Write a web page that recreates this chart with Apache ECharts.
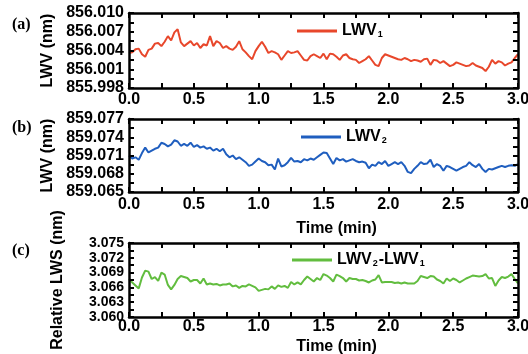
<!DOCTYPE html>
<html>
<head>
<meta charset="utf-8">
<script src="https://cdn.jsdelivr.net/npm/echarts@6/dist/echarts.min.js"></script>
<style>
  html, body { margin: 0; padding: 0; background: #fff; }
  #chart { width: 528px; height: 354px; }
</style>
</head>
<body>
<div id="chart"></div>
<script>
// sampling step of the traces, minutes (trace i is at i * timeStep)
const timeStep = 0.025;
const timeTicks = [0, 0.5, 1, 1.5, 2, 2.5, 3];

const yTicksA = [855.998, 856.001, 856.004, 856.007, 856.010];
const yTicksB = [859.065, 859.068, 859.071, 859.074, 859.077];
const yTicksC = [3.060, 3.063, 3.066, 3.069, 3.072, 3.075];

// LWV1 (nm)
const lwv1 = [
  856.0036, 856.0037, 856.0042, 856.0043, 856.0034, 856.0030, 856.0041, 856.0043, 856.0051, 856.0052,
  856.0047, 856.0054, 856.0063, 856.0056, 856.0069, 856.0074, 856.0053, 856.0047, 856.0051, 856.0055,
  856.0048, 856.0052, 856.0044, 856.0050, 856.0048, 856.0063, 856.0047, 856.0055, 856.0052, 856.0044,
  856.0047, 856.0043, 856.0041, 856.0046, 856.0055, 856.0042, 856.0037, 856.0031, 856.0026, 856.0039,
  856.0047, 856.0054, 856.0046, 856.0036, 856.0039, 856.0037, 856.0034, 856.0025, 856.0032, 856.0039,
  856.0036, 856.0037, 856.0039, 856.0032, 856.0025, 856.0024, 856.0031, 856.0034, 856.0031, 856.0028,
  856.0035, 856.0026, 856.0035, 856.0034, 856.0030, 856.0025, 856.0032, 856.0034, 856.0028, 856.0026,
  856.0025, 856.0020, 856.0023, 856.0026, 856.0031, 856.0024, 856.0017, 856.0015, 856.0028, 856.0034,
  856.0032, 856.0030, 856.0028, 856.0026, 856.0025, 856.0028, 856.0026, 856.0023, 856.0025, 856.0024,
  856.0022, 856.0026, 856.0027, 856.0017, 856.0025, 856.0024, 856.0020, 856.0023, 856.0019, 856.0015,
  856.0017, 856.0021, 856.0019, 856.0017, 856.0015, 856.0016, 856.0020, 856.0016, 856.0014, 856.0012,
  856.0007, 856.0014, 856.0025, 856.0019, 856.0023, 856.0021, 856.0016, 856.0019, 856.0021, 856.0028,
  856.0034
];

// LWV2 (nm)
const lwv2 = [
  859.0710, 859.0705, 859.0707, 859.0703, 859.0714, 859.0723, 859.0715, 859.0718, 859.0721, 859.0723,
  859.0731, 859.0729, 859.0725, 859.0728, 859.0735, 859.0733, 859.0726, 859.0729, 859.0726, 859.0731,
  859.0724, 859.0727, 859.0723, 859.0725, 859.0721, 859.0723, 859.0718, 859.0721, 859.0717, 859.0721,
  859.0712, 859.0707, 859.0710, 859.0704, 859.0707, 859.0703, 859.0699, 859.0693, 859.0695, 859.0700,
  859.0705, 859.0701, 859.0699, 859.0694, 859.0695, 859.0687, 859.0705, 859.0692, 859.0694, 859.0699,
  859.0706, 859.0700, 859.0701, 859.0699, 859.0704, 859.0702, 859.0705, 859.0703, 859.0707, 859.0711,
  859.0715, 859.0714, 859.0705, 859.0696, 859.0706, 859.0702, 859.0704, 859.0700, 859.0702, 859.0704,
  859.0701, 859.0699, 859.0700, 859.0698, 859.0689, 859.0695, 859.0693, 859.0699, 859.0696, 859.0701,
  859.0693, 859.0696, 859.0699, 859.0696, 859.0699, 859.0693, 859.0683, 859.0681, 859.0688, 859.0693,
  859.0699, 859.0696, 859.0697, 859.0703, 859.0691, 859.0696, 859.0693, 859.0685, 859.0693, 859.0691,
  859.0688, 859.0685, 859.0688, 859.0691, 859.0693, 859.0699, 859.0694, 859.0691, 859.0696, 859.0688,
  859.0683, 859.0688, 859.0687, 859.0689, 859.0691, 859.0693, 859.0691, 859.0693, 859.0694, 859.0693,
  859.0696
];

// LWV2 - LWV1 (nm)
const lwsRel = [
  3.0677, 3.0670, 3.0664, 3.0658, 3.0680, 3.0694, 3.0692, 3.0677, 3.0681, 3.0673,
  3.0690, 3.0686, 3.0665, 3.0656, 3.0665, 3.0677, 3.0683, 3.0681, 3.0679, 3.0672,
  3.0675, 3.0675, 3.0668, 3.0678, 3.0666, 3.0668, 3.0666, 3.0667, 3.0664, 3.0666,
  3.0666, 3.0668, 3.0662, 3.0664, 3.0659, 3.0663, 3.0662, 3.0666, 3.0663, 3.0660,
  3.0653, 3.0655, 3.0657, 3.0656, 3.0662, 3.0657, 3.0664, 3.0661, 3.0663, 3.0659,
  3.0671, 3.0666, 3.0670, 3.0666, 3.0675, 3.0682, 3.0677, 3.0672, 3.0679, 3.0675,
  3.0687, 3.0684, 3.0679, 3.0672, 3.0686, 3.0683, 3.0679, 3.0672, 3.0679, 3.0677,
  3.0677, 3.0674, 3.0675, 3.0673, 3.0670, 3.0674, 3.0676, 3.0685, 3.0670, 3.0671,
  3.0671, 3.0671, 3.0669, 3.0670, 3.0668, 3.0670, 3.0668, 3.0668, 3.0668, 3.0673,
  3.0683, 3.0681, 3.0679, 3.0683, 3.0682, 3.0676, 3.0673, 3.0668, 3.0678, 3.0673,
  3.0678, 3.0675, 3.0670, 3.0674, 3.0678, 3.0681, 3.0684, 3.0683, 3.0682, 3.0683,
  3.0687, 3.0678, 3.0679, 3.0663, 3.0674, 3.0681, 3.0679, 3.0682, 3.0687, 3.0677,
  3.0668
];

const FONT = "Liberation Sans";

const panels = [
  { tag: "(a)", values: lwv1, ticks: yTicksA, name: "LWV1", label: "{n|LWV}{s|1}",
    color: "#e8472b", top: 13, height: 75, yName: "LWV (nm)", yGap: 67, xName: "", xGap: 29,
    labelMargin: 4, yLabelSize: 16, legendLeft: 292, legendTop: 18, tagY: 26 },
  { tag: "(b)", values: lwv2, ticks: yTicksB, name: "LWV2", label: "{n|LWV}{s|2}",
    color: "#1f5ebf", top: 119, height: 73, yName: "LWV (nm)", yGap: 67, xName: "Time (min)", xGap: 29,
    labelMargin: 5, yLabelSize: 16, legendLeft: 296, legendTop: 124, tagY: 129 },
  { tag: "(c)", values: lwsRel, ticks: yTicksC, name: "LWV2-LWV1", label: "{n|LWV}{s|2}{n|-LWV}{s|1}",
    color: "#62bd3f", top: 243, height: 74, yName: "Relative LWS (nm)", yGap: 63, xName: "Time (min)", xGap: 22,
    labelMargin: 2, yLabelSize: 14, legendLeft: 287, legendTop: 247, tagY: 252 }
];

const boldText = { fontFamily: FONT, fontWeight: "bold", fontSize: 16, color: "#000" };

function frame(inside) {
  return {
    z: 10,
    axisLine: { show: true, onZero: false, lineStyle: { color: "#000", width: 2.5 } },
    axisTick: { show: true, inside, length: 5, lineStyle: { color: "#000", width: 2 } },
    minorTick: { show: true, splitNumber: 2, length: 5, lineStyle: { color: "#000", width: 2 } },
    splitLine: { show: false },
    axisLabel: { show: false }
  };
}

const xRange = {
  type: "value", min: timeTicks[0], max: timeTicks[timeTicks.length - 1],
  interval: timeTicks[1] - timeTicks[0]
};

const grid = [], xAxis = [], yAxis = [], series = [], legend = [], graphic = [];
const n = panels.length;

panels.forEach((p, i) => {
  const base = p.ticks[0];
  const span = Math.round((p.ticks[p.ticks.length - 1] - base) * 1000);
  const step = Math.round((p.ticks[1] - base) * 1000);
  const fmtY = (v) => (base + Number(v) / 1000).toFixed(3);
  const bottom = p.top + p.height;

  // plot box, a strip below it whose top edge draws the bottom frame,
  // and a thin strip that only carries the time labels (drawn underneath)
  grid[i] = { left: 129, right: 10, top: p.top, height: p.height, outerBoundsMode: "none" };
  grid[n + i] = { left: 129, right: 10, top: bottom, height: 10, outerBoundsMode: "none" };
  grid[2 * n + i] = { left: 129, right: 10, top: bottom - 1, height: 1, outerBoundsMode: "none" };

  xAxis[i] = Object.assign(frame(true), xRange, { gridIndex: i, position: "top" });
  xAxis[n + i] = Object.assign(frame(false), xRange, { gridIndex: n + i, position: "top" });
  xAxis[2 * n + i] = Object.assign({}, xRange, {
    gridIndex: 2 * n + i, position: "bottom", z: 0,
    axisLine: { show: false }, axisTick: { show: false }, splitLine: { show: false },
    axisLabel: Object.assign({}, boldText, {
      margin: p.labelMargin, hideOverlap: false, showMinLabel: true, showMaxLabel: true,
      backgroundColor: "transparent",
      formatter: (v) => Number(v).toFixed(1)
    }),
    name: p.xName, nameLocation: "middle", nameGap: p.xGap,
    nameTextStyle: Object.assign({}, boldText, { padding: [0, 0, 0, 26], backgroundColor: "transparent" })
  });

  const yRange = { type: "value", gridIndex: i, min: 0, max: span, interval: step };
  yAxis[i] = Object.assign(frame(true), yRange, {
    position: "left",
    axisLabel: Object.assign({}, boldText, {
      fontSize: p.yLabelSize, lineHeight: p.yLabelSize, margin: 5,
      hideOverlap: false, showMinLabel: true, showMaxLabel: true, formatter: fmtY
    }),
    name: p.yName, nameLocation: "middle", nameGap: p.yGap,
    nameTextStyle: Object.assign({}, boldText)
  });
  yAxis[n + i] = Object.assign(frame(true), yRange, { position: "right" });
  yAxis[2 * n + i] = { type: "value", gridIndex: n + i, show: false, min: 0, max: 1 };
  yAxis[3 * n + i] = { type: "value", gridIndex: 2 * n + i, show: false, min: 0, max: 1 };

  series.push({
    name: p.name, type: "line", xAxisIndex: i, yAxisIndex: i,
    data: p.values.map((v, k) => [k * timeStep, Math.round((v - base) * 100000) / 100]),
    showSymbol: false, symbol: "none", animation: false,
    lineStyle: { color: p.color, width: 2 }, itemStyle: { color: p.color }
  });

  legend.push({
    data: [p.name], left: p.legendLeft, top: p.legendTop, icon: "rect",
    itemWidth: 40, itemHeight: 3, selectedMode: false,
    formatter: () => p.label,
    textStyle: {
      rich: {
        n: { fontFamily: FONT, fontWeight: "bold", fontSize: 16, color: "#000" },
        s: { fontFamily: FONT, fontWeight: "bold", fontSize: 9, color: "#000", verticalAlign: "bottom", padding: [0, 1, 0, 1] }
      }
    }
  });

  graphic.push({
    type: "text", left: 12, top: p.tagY - 9,
    style: { text: p.tag, fontFamily: "Liberation Serif", fontWeight: "bold", fontSize: 16, fill: "#000" }
  });
});

const chart = echarts.init(document.getElementById("chart"));
chart.setOption({
  backgroundColor: "#fff",
  animation: false,
  grid, xAxis, yAxis, series, legend, graphic
});
</script>
</body>
</html>
